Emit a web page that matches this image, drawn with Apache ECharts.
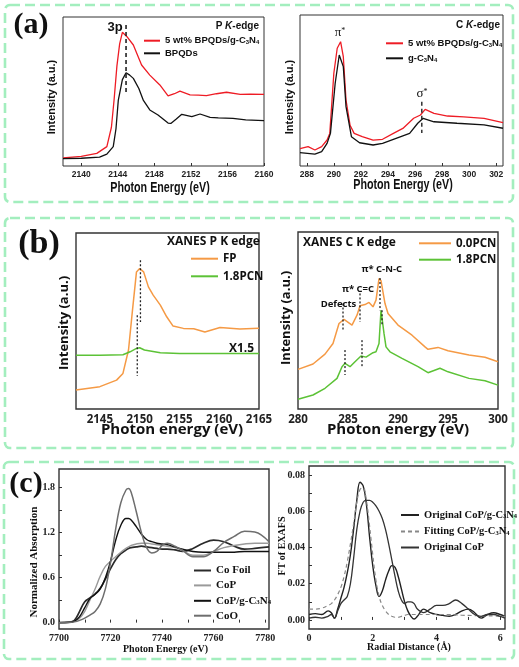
<!DOCTYPE html>
<html><head><meta charset="utf-8">
<script src="https://cdn.jsdelivr.net/npm/echarts@6/dist/echarts.min.js"></script>
<style>html,body{margin:0;padding:0;background:#fff}#c{width:519px;height:667px}</style>
</head><body><div id="c"></div>
<script>
// ---------- Panel (a) left : P K-edge ----------
const aL_E_red = [2138,2140,2141.7,2142.8,2143.3,2143.6,2143.9,2144.2,2144.5,2145,2145.7,2146.6,2147.5,2148.6,2149.5,2150.2,2150.8,2151.9,2152.8,2153.7,2154.8,2155.9,2157.4,2158.5,2160];
const aL_red   = [5.5,6.5,8.5,13,26,45,67,82,89.7,86.8,81.2,67.8,61,54.4,47,48.5,50.3,47.7,47.5,47.2,48.5,49.5,48.1,48.3,48.1];
const aL_E_blk = [2138,2140,2142,2142.8,2143.5,2143.8,2144.05,2144.5,2144.9,2145.3,2145.7,2146.3,2146.8,2147.5,2148.4,2149.5,2149.8,2150.4,2151,2152.1,2153,2154.1,2155,2156.6,2158,2160];
const aL_blk   = [4.9,5.2,6,8,13,25,44,58,62.6,61,58.8,52,44,37.6,34.2,28.8,28.6,31.5,34.7,33.1,34.9,32.7,32.3,32,31,30.4];
const aL_dashX = [2144.9], aL_dashY = [94.6,47.7];
const aL_ticks = [2140,2144,2148,2152,2156,2160];
// ---------- Panel (a) right : C K-edge ----------
const aR_E_red = [287.5,288.1,288.6,289.1,289.5,289.7,290,290.25,290.5,290.7,290.9,291.2,291.5,292.1,292.9,293.6,294.4,295.1,295.9,296.4,296.75,297.4,298.4,299.6,301.1,302.5];
const aR_red   = [11.5,12.8,10.6,12.8,17.2,21.6,61.4,78,82.3,72.4,43.7,27,21.6,19.4,17.2,17.7,21.6,24.9,31.6,33.8,37.5,34.9,33.1,32.5,31.6,28.7];
const aR_E_blk = [287.5,288.6,289.1,289.5,289.75,290.1,290.4,290.7,290.9,291.3,291.9,292.9,293.6,294.6,295.6,296.2,296.6,297.4,299.1,301.1,302.5];
const aR_blk   = [8.8,7.9,9.5,15,21.6,54.8,73.5,65.8,39.3,19.4,15.4,13.9,15,18.3,21.6,28.3,31.6,29.3,28.3,27.2,25];
const aR_dashX = [296.5], aR_dashY = [42.6,21.9];
const aR_ticks = [288,290,292,294,296,298,300,302];
// ---------- Panel (b) left : XANES P K edge ----------
const bL_E_fp = [2142,2145,2147.1,2147.9,2148.6,2149.1,2149.6,2150,2150.5,2151.1,2151.7,2152.6,2153.4,2154.2,2155.5,2156.8,2158.2,2160.1,2162.6,2165];
const bL_fp   = [10.8,12.7,16.4,20.2,33.5,56.2,77.9,79.8,77.9,69.4,64.7,59,52.4,47.1,45.8,45.6,43.8,46.3,45.4,45.9];
const bL_E_pcn = [2142,2145,2147.9,2148.8,2149.6,2150,2150.6,2152.6,2155,2160,2165];
const bL_pcn   = [30.6,30.6,30.8,32.5,34.4,34.8,33.5,31.9,31.6,31.6,31.6];
const bL_dotX = [2150.1,2149.7], bL_dotTop = [84.5,53.3], bL_dotBot = [49.5,18.7];
const bL_ticks = [2145,2150,2155,2160,2165];
// ---------- Panel (b) right : XANES C K edge ----------
const bR_E_0 = [280,281.5,282.7,283.5,284.1,284.6,285.4,285.9,286.2,286.7,287.1,287.5,287.8,288.1,288.3,288.7,289,290,291.4,292.7,293,294,295,297.1,298.7,300];
const bR_0   = [22.4,25.4,31,37,48.3,50.6,47.4,53,58.3,59,60.2,57.7,61.5,73.7,72.5,59.6,54,47.4,41.7,35.1,33.7,34.8,32.9,30.5,29.2,26.7];
const bR_E_18 = [280,281.5,282.7,283.9,284.4,284.7,285.2,285.7,286.3,286.8,287.5,287.8,288.1,288.3,288.6,288.8,289.2,290.4,292,293,294.2,295,297.1,298.7,300];
const bR_18   = [5.5,7.9,11.7,17.3,23.9,25.8,23.9,26.7,29.9,29.3,31.8,32.3,37,55.8,42.7,35.1,32.3,28.6,23.9,20.5,23,21,17.3,16,13.5];
const bR_dotX = [284.5,286.2,288.2,284.7,286.4,288.4];
const bR_dotTop = [59.6,65.3,74,33.3,38.9,55.8];
const bR_dotBot = [44.6,49.2,55.8,19.2,23,47.4];
const bR_ticks = [280,285,290,295,300];
// ---------- Panel (c) left : Co K-edge XANES ----------
const cL_E = [7700,7704,7706,7708,7710,7712,7714,7716,7718,7720,7722,7724,7726,7727,7728,7730,7732,7734,7736,7738,7740,7742,7745,7748,7752,7756,7760,7764,7768,7772,7776,7781.5];
const cL_foil = [0,0.005,0.03,0.15,0.28,0.33,0.38,0.46,0.58,0.72,0.84,0.92,0.97,0.99,1.0,1.01,1.02,1.01,1.0,0.99,0.98,0.98,0.97,0.95,0.99,1.06,1.1,1.08,1.02,0.98,0.99,1.01];
const cL_cop  = [0,0.005,0.02,0.06,0.15,0.3,0.45,0.62,0.75,0.82,0.88,0.94,0.99,1.01,1.03,1.05,1.06,1.06,1.05,1.04,1.03,1.02,1.0,0.96,0.9,0.9,0.95,1.0,1.03,1.05,1.06,1.06];
const cL_comp = [0,0.005,0.02,0.08,0.2,0.32,0.38,0.45,0.6,0.82,1.1,1.3,1.39,1.39,1.37,1.28,1.18,1.11,1.08,1.06,1.05,1.04,1.01,0.98,0.95,0.94,0.94,0.94,0.94,0.95,0.95,0.95];
const cL_coo  = [0,0.003,0.01,0.03,0.06,0.1,0.15,0.25,0.45,0.8,1.25,1.6,1.77,1.79,1.74,1.48,1.2,1.0,0.93,0.95,1.03,1.06,1.02,0.96,0.88,0.88,0.95,1.07,1.15,1.22,1.21,1.08];
const cL_xticks = [7700,7720,7740,7760,7780];
const cL_yticks = [0,0.6,1.2,1.8];
// ---------- Panel (c) right : FT of EXAFS ----------
const cR_r = [0,0.2,0.4,0.6,0.7,0.8,0.9,1.0,1.1,1.2,1.3,1.4,1.5,1.6,1.7,1.8,1.9,2.0,2.1,2.2,2.3,2.4,2.5,2.6,2.7,2.8,2.9,3.0,3.1,3.2,3.3,3.4,3.6,3.8,4.0,4.2,4.4,4.6,4.8,5.0,5.2,5.4,5.6,5.8,6.0,6.15];
const cR_comp = [0.003,0.0035,0.003,0.005,0.004,0.001,0.006,0.012,0.018,0.026,0.036,0.05,0.066,0.076,0.074,0.064,0.046,0.03,0.019,0.013,0.016,0.022,0.027,0.03,0.029,0.024,0.017,0.01,0.005,0.002,0.0005,0.002,0.006,0.004,0.003,0.0025,0.002,0.003,0.005,0.006,0.004,0.001,0.003,0.004,0.003,0.002];
const cR_fit  = [0.006,0.006,0.0065,0.008,0.009,0.011,0.014,0.018,0.024,0.032,0.042,0.053,0.065,0.072,0.073,0.066,0.052,0.036,0.022,0.013,0.008,0.005,0.003,0.002,0.0015,0.0015,0.002,0.0025,0.003,0.003,0.003,0.003,0.003,0.003,0.003,0.003,0.003,0.0028,0.0026,0.0025,0.0024,0.0023,0.0022,0.0022,0.002,0.002];
const cR_cop  = [0.001,0.0015,0.001,0.002,0.003,0.001,0.005,0.009,0.011,0.013,0.02,0.034,0.05,0.06,0.065,0.066,0.066,0.065,0.063,0.06,0.056,0.05,0.042,0.033,0.024,0.016,0.011,0.009,0.01,0.01,0.009,0.006,0.004,0.006,0.008,0.008,0.009,0.011,0.009,0.006,0.003,0.002,0.003,0.003,0.002,0.001];
const cR_xticks = [0,2,4,6];
const cR_yticks = [0,0.02,0.04,0.06,0.08];

// ---------- build ----------
const FA = "'Liberation Sans',Arial,sans-serif";
const FB = "'Open Sans',sans-serif";
const FC = "'Liberation Serif','Times New Roman',serif";
const pts = (xs, ys) => xs.map((x, i) => [x, ys[i]]);
const RED = '#ee1c25', BLK = '#111', ORG = '#f59a45', GRN = '#5cc236';
const SUBNAME = n => n.replace('C3N4', 'C{s|3}N{s|4}');

const grids = [
  {left:63, top:17, width:201, height:149},
  {left:300, top:15, width:203, height:151},
  {left:76, top:233, width:183, height:176},
  {left:298, top:232, width:200, height:177},
  {left:59, top:469, width:210, height:160},
  {left:309, top:466, width:196, height:163}
].map((g, i) => Object.assign({show:true, borderColor:'#333', borderWidth: i < 2 ? 1 : 1.4, backgroundColor:'transparent'}, g));

function xAx(gi, min, max, ticks, font, size, bold, margin, tickVals) {
  return {type:'value', gridIndex:gi, min, max, splitLine:{show:false}, axisLine:{show:false},
    axisTick:{show: !!tickVals, inside:true, length:3, customValues: tickVals || ticks, lineStyle:{color:'#333'}},
    axisLabel:{customValues: ticks, formatter: v => String(v), fontFamily:font, fontSize:size, fontWeight:bold, color:'#222', margin}};
}
function yHidden(gi) {
  return {type:'value', gridIndex:gi, min:0, max:100, splitLine:{show:false}, axisLine:{show:false}, axisTick:{show:false}, axisLabel:{show:false}};
}
const xAxes = [
  xAx(0, 2138, 2160, aL_ticks, FA, 8.5, 'bold', 4, aL_ticks),
  xAx(1, 287.5, 302.5, aR_ticks, FA, 8.5, 'bold', 4, aR_ticks),
  xAx(2, 2142, 2165, bL_ticks, FB, 11.5, 'bold', 5, null),
  xAx(3, 280, 300, bR_ticks, FB, 11.5, 'bold', 5, null),
  xAx(4, 7700, 7781.5, cL_xticks, FC, 10, 'bold', 4, [7700,7710,7720,7730,7740,7750,7760,7770,7780]),
  xAx(5, 0, 6.15, cR_xticks, FC, 10, 'bold', 4, [0,1,2,3,4,5,6])
];
const yAxes = [yHidden(0), yHidden(1), yHidden(2), yHidden(3),
  {type:'value', gridIndex:4, min:-0.085, max:2.05, splitLine:{show:false}, axisLine:{show:false},
   axisTick:{inside:true, length:3, customValues:[0,0.3,0.6,0.9,1.2,1.5,1.8], lineStyle:{color:'#333'}},
   axisLabel:{customValues:cL_yticks, formatter:v => v.toFixed(1), fontFamily:FC, fontSize:10, fontWeight:'bold', color:'#222', margin:4}},
  {type:'value', gridIndex:5, min:-0.005, max:0.085, splitLine:{show:false}, axisLine:{show:false},
   axisTick:{inside:true, length:3, customValues:[0,0.01,0.02,0.03,0.04,0.05,0.06,0.07,0.08], lineStyle:{color:'#333'}},
   axisLabel:{customValues:cR_yticks, formatter:v => v.toFixed(2), fontFamily:FC, fontSize:10, fontWeight:'bold', color:'#222', margin:4}}
];

function ln(name, gi, data, color, width, extra) {
  return Object.assign({type:'line', name, xAxisIndex:gi, yAxisIndex:gi, data, symbol:'none', showSymbol:false,
    lineStyle:{color, width}, itemStyle:{color}, silent:true, z:3}, extra || {});
}
function vseg(gi, x, y0, y1, type, color, width) {
  return {type:'line', xAxisIndex:gi, yAxisIndex:gi, data:[[x, y0],[x, y1]], symbol:'none', silent:true,
    lineStyle:{color, width, type}, z:4};
}
const series = [
  ln('5 wt% BPQDs/g-C3N4', 0, pts(aL_E_red, aL_red), RED, 1.3),
  ln('BPQDs', 0, pts(aL_E_blk, aL_blk), BLK, 1.3),
  vseg(0, aL_dashX[0], aL_dashY[0], aL_dashY[1], [4,3], '#222', 1.6),
  ln('5 wt% BPQDs/g-C3N4', 1, pts(aR_E_red, aR_red), RED, 1.3),
  ln('g-C3N4', 1, pts(aR_E_blk, aR_blk), BLK, 1.3),
  vseg(1, aR_dashX[0], aR_dashY[0], aR_dashY[1], [4,3], '#222', 1.4),
  ln('FP', 2, pts(bL_E_fp, bL_fp), ORG, 1.5),
  ln('1.8PCN', 2, pts(bL_E_pcn, bL_pcn), GRN, 1.5),
  ln('0.0PCN', 3, pts(bR_E_0, bR_0), ORG, 1.5),
  ln('1.8PCN', 3, pts(bR_E_18, bR_18), GRN, 1.5),
  ln('Co Foil', 4, pts(cL_E, cL_foil), '#2a2a2a', 1.7, {smooth:0.4}),
  ln('CoP', 4, pts(cL_E, cL_cop), '#9a9a9a', 1.4, {smooth:0.4}),
  ln('CoP/g-C3N4', 4, pts(cL_E, cL_comp), '#111', 1.4, {smooth:0.4}),
  ln('CoO', 4, pts(cL_E, cL_coo), '#6e6e6e', 1.5, {smooth:0.4}),
  ln('Original CoP/g-C3N4', 5, pts(cR_r, cR_comp), '#222', 1.4, {smooth:0.4}),
  ln('Fitting CoP/g-C3N4', 5, pts(cR_r, cR_fit), '#888', 1.2, {smooth:0.4, lineStyle:{color:'#888', width:1.2, type:[4,3]}}),
  ln('Original CoP', 5, pts(cR_r, cR_cop), '#333', 1.3, {smooth:0.4})
];
bL_dotX.forEach((x, i) => series.push(vseg(2, x, bL_dotTop[i], bL_dotBot[i], [2,2], '#222', 1.3)));
bR_dotX.forEach((x, i) => series.push(vseg(3, x, bR_dotTop[i], bR_dotBot[i], [2,2], '#222', 1.3)));

function leg(data, left, top, iw, gap, font, size) {
  return {data, left, top, orient:'vertical', padding:0, itemWidth:iw, itemHeight:10, itemGap:gap, selectedMode:false,
    itemStyle:{opacity:0},
    formatter: SUBNAME,
    textStyle:{fontFamily:font, fontSize:size, fontWeight:'bold', color:'#111', lineHeight:10,
      rich:{s:{fontFamily:font, fontSize:size*0.62, fontWeight:'bold', color:'#111', verticalAlign:'bottom', lineHeight:8, padding:[4,0,0,0]}}}};
}
const legends = [
  leg(['5 wt% BPQDs/g-C3N4','BPQDs'], 143, 35.7, 16, 2.6, FA, 9.5),
  leg(['5 wt% BPQDs/g-C3N4','g-C3N4'], 385, 38.3, 17, 5, FA, 9.5),
  leg(['FP','1.8PCN'], 190, 252.7, 27, 5.6, FB, 11.5),
  leg(['0.0PCN','1.8PCN'], 418, 237.3, 32, 4.4, FB, 11.5),
  leg(['Co Foil','CoP','CoP/g-C3N4','CoO'], 193, 565, 17, 3.9, FC, 11),
  leg(['Original CoP/g-C3N4','Fitting CoP/g-C3N4','Original CoP'], 400, 509, 18, 5, FC, 10.5)
];

const G = '#a3eebe';
function box(x, y, w, h) {
  return {type:'rect', shape:{x, y, width:w, height:h, r:5}, style:{fill:'none', stroke:G, lineWidth:2.6, lineDash:[10,5]}, silent:true, z:0};
}
function t(x, y, text, font, size, opts) {
  return Object.assign({type:'text', x, y, silent:true, z:10,
    style:Object.assign({text, fontFamily:font, fontSize:size, fontWeight:'bold', fill:'#111', align:'center', verticalAlign:'middle'}, (opts && opts.style) || {})},
    opts && opts.el || {});
}
const rot = {el:{rotation:Math.PI/2}};
const sq = {el:{scaleX:0.74}};
const graphic = [
  box(5, 5, 508, 197), box(5, 218, 508, 230), box(4, 462, 510, 197),
  t(31, 25, '(a)', FC, 30), t(39, 244, '(b)', FC, 34), t(26, 484, '(c)', FC, 30),
  // panel a
  t(160, 188, 'Photon Energy (eV)', FA, 14.5, sq),
  t(403, 185, 'Photon Energy (eV)', FA, 14.5, sq),
  t(52, 97, 'Intensity (a.u.)', FA, 11, rot),
  t(290, 97, 'Intensity (a.u.)', FA, 11, rot),
  t(115, 27, '3p', FA, 13),
  t(259, 26, 'P {i|K}-edge', FA, 10, {style:{align:'right', rich:{i:{fontFamily:FA, fontSize:10, fontWeight:'bold', fontStyle:'italic', fill:'#111'}}}}),
  t(500, 25, 'C {i|K}-edge', FA, 10, {style:{align:'right', rich:{i:{fontFamily:FA, fontSize:10, fontWeight:'bold', fontStyle:'italic', fill:'#111'}}}}),
  t(340, 33, 'π{p|*}', FC, 13, {style:{fontWeight:'normal', rich:{p:{fontFamily:FC, fontSize:8, verticalAlign:'top', fill:'#111'}}}}),
  t(422, 94, 'σ{p|*}', FC, 13, {style:{fontWeight:'normal', rich:{p:{fontFamily:FC, fontSize:8, verticalAlign:'top', fill:'#111'}}}}),
  // panel b
  t(172, 430, 'Photon energy (eV)', FB, 15),
  t(398, 430, 'Photon energy (eV)', FB, 15),
  t(64.5, 323, 'Intensity (a.u.)', FB, 13, rot),
  t(286.7, 318, 'Intensity (a.u.)', FB, 13, rot),
  t(167, 242, 'XANES P K edge', FB, 12, {style:{align:'left'}}),
  t(303, 243, 'XANES C K edge', FB, 12, {style:{align:'left'}}),
  t(229, 349, 'X1.5', FB, 12, {style:{align:'left'}}),
  t(338.5, 304, 'Defects', FB, 9.5),
  t(358, 289, 'π* C=C', FB, 9.5),
  t(381.7, 269, 'π* C-N-C', FB, 9.5),
  // panel c
  t(165.5, 649, 'Photon Energy (eV)', FC, 10),
  t(33.7, 562, 'Normalized Absorption', FC, 11, rot),
  t(409, 647, 'Radial Distance (Å)', FC, 10),
  t(282, 546, 'FT of EXAFS', FC, 10, rot)
];

const chart = echarts.init(document.getElementById('c'), null, {renderer:'canvas'});
chart.setOption({animation:false, backgroundColor:'#fff', grid:grids, xAxis:xAxes, yAxis:yAxes, series, legend:legends, graphic});
</script></body></html>
